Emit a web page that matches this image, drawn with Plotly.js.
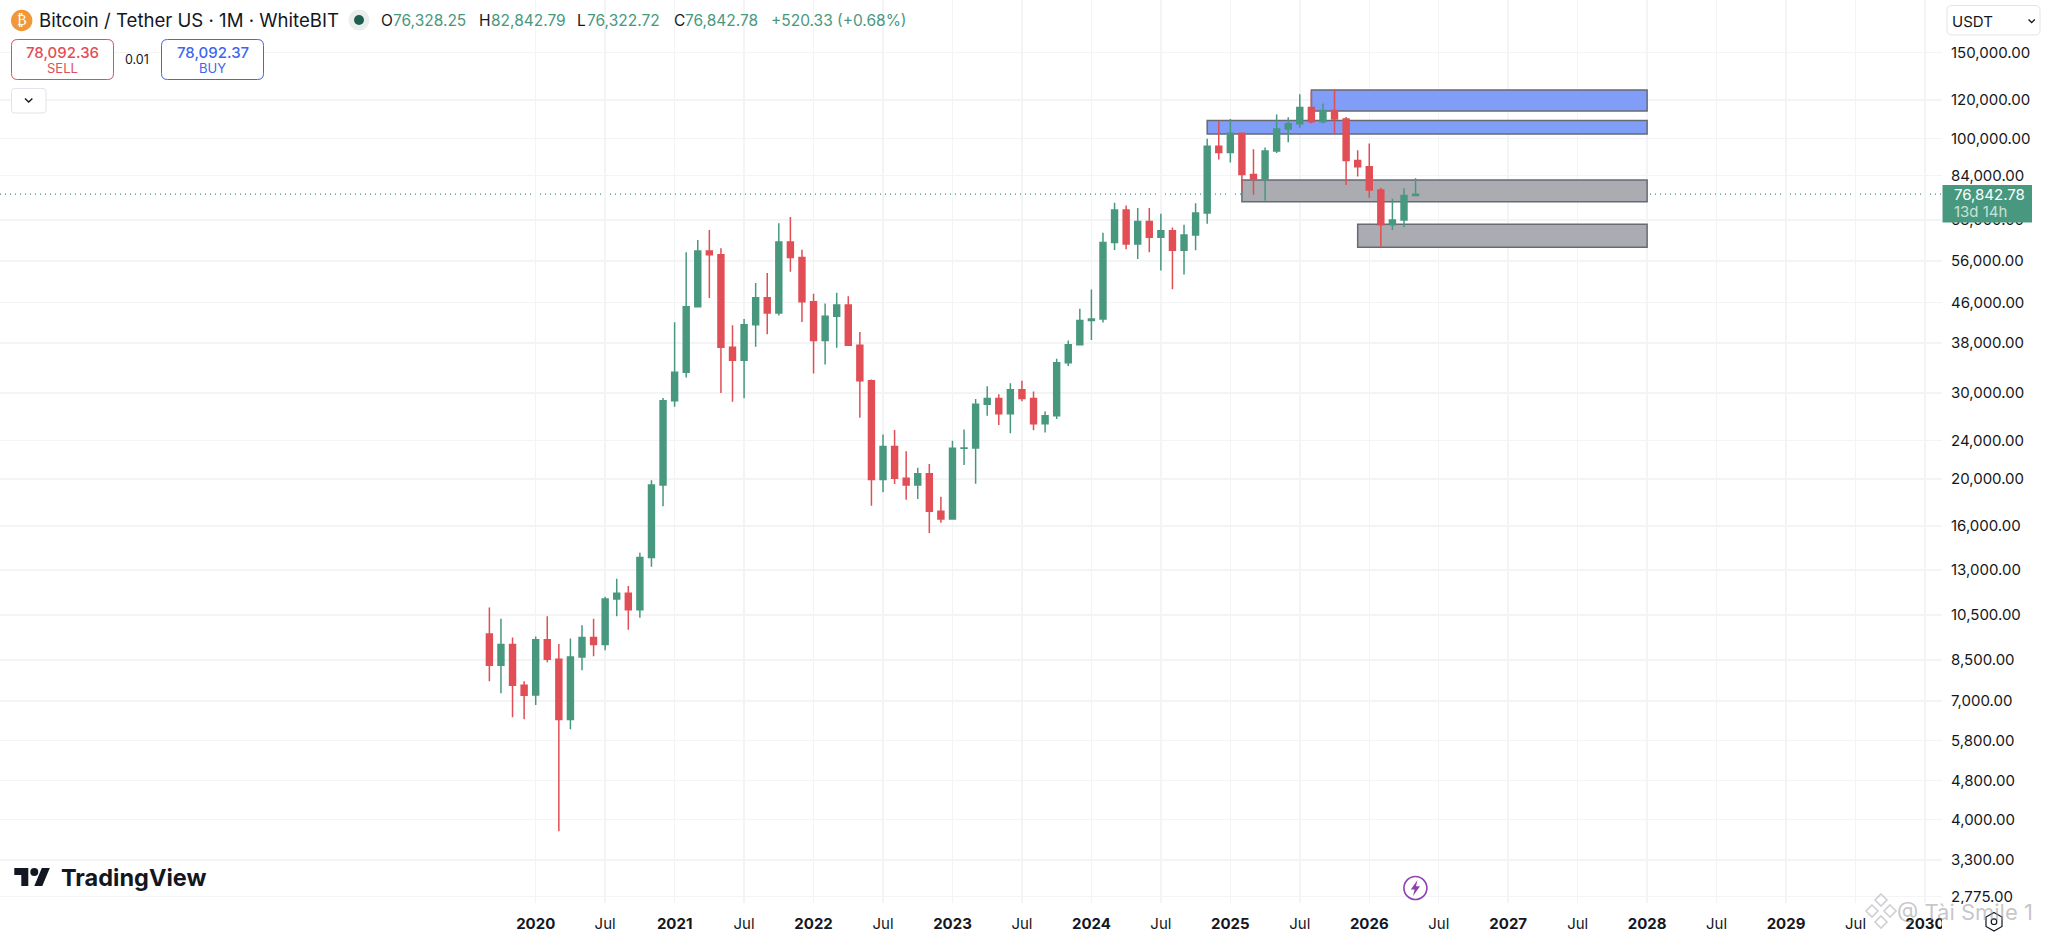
<!DOCTYPE html>
<html><head><meta charset="utf-8">
<script src="https://cdn.plot.ly/plotly-3.0.1.min.js"></script>
<style>html,body{margin:0;padding:0;background:#fff;overflow:hidden}#c{width:2047px;height:937px}</style>
</head><body><div id="c"></div>
<script>
var months=["2019-09","2019-10","2019-11","2019-12",
"2020-01","2020-02","2020-03","2020-04","2020-05","2020-06","2020-07","2020-08","2020-09","2020-10","2020-11","2020-12",
"2021-01","2021-02","2021-03","2021-04","2021-05","2021-06","2021-07","2021-08","2021-09","2021-10","2021-11","2021-12",
"2022-01","2022-02","2022-03","2022-04","2022-05","2022-06","2022-07","2022-08","2022-09","2022-10","2022-11","2022-12",
"2023-01","2023-02","2023-03","2023-04","2023-05","2023-06","2023-07","2023-08","2023-09","2023-10","2023-11","2023-12",
"2024-01","2024-02","2024-03","2024-04","2024-05","2024-06","2024-07","2024-08","2024-09","2024-10","2024-11","2024-12",
"2025-01","2025-02","2025-03","2025-04","2025-05","2025-06","2025-07","2025-08","2025-09","2025-10","2025-11","2025-12",
"2026-01","2026-02","2026-03","2026-04","2026-05"];
var opens=[9600,8289,9140,7541,
7195,9351,8523,6412,8620,9448,9137,11335,11649,10776,13791,19422,
28923,33092,45134,58739,57697,37253,35045,41461,47100,43816,61299,56950,
46216,38466,43160,45510,37630,31801,19942,23296,20050,19422,20490,17165,
16541,23125,23142,28465,29233,27216,30472,29232,25940,26962,34639,37723,
42284,42580,61130,71291,60672,67540,62678,64620,58970,63328,70292,96408,
93576,102429,84350,82550,94172,104591,107146,115764,108246,114049,109608,90060,
87470,78400,66510,68030,76328.25];
var highs=[10890,10320,9450,7680,
9490,10450,9160,9400,10010,10320,11450,12468,12050,14100,19863,29300,
41950,58352,61844,64854,59500,41330,42599,50500,52920,67000,69000,59054,
47990,45821,48190,47444,40023,31982,24666,25200,22799,21085,21446,18387,
23960,25250,29184,31000,29820,31431,31804,30244,27488,35280,38450,44700,
48969,64000,73777,72797,71979,71980,70014,65593,66498,73620,99800,108353,
109588,102500,95000,95758,111980,110530,123218,124474,117900,126200,110600,94600,
97600,79200,75200,79000,82842.79];
var lows=[7680,7262,6480,6420,
6870,8400,3782,6120,8090,8650,8900,10450,9800,10374,13195,17572,
28130,32296,44961,47044,30000,28805,29278,37332,39600,43283,53256,42000,
32917,34322,37155,37470,26700,17622,18780,19520,18125,18190,15476,16257,
16499,21351,19549,26942,25811,24800,28861,25166,24901,26538,34097,37615,
38555,41884,59005,59191,56552,58402,53550,49000,52550,58946,66835,90500,
89256,78258,76606,74508,93377,98200,105118,107350,107250,102000,80200,83500,
75560,59900,64840,65700,76322.72];
var closes=[8289,9140,7541,7193,
9352,8523,6410,8620,9448,9137,11335,11649,10776,13791,19422,28923,
33092,45135,58740,57694,37253,35045,41461,47100,43824,61299,56950,46216,
38466,43160,45510,37630,31801,19942,23293,20050,19422,20490,17164,16542,
23125,23142,28465,29233,27216,30472,29232,25940,26962,34639,37723,42283,
42580,61130,71291,60672,67540,62678,64620,58970,63328,70292,96408,93576,
102429,84350,82550,94172,104591,107146,115764,108246,114049,109608,90060,87470,
78400,66510,68030,76328.25,76842.78];

var priceTicks=[150000,120000,100000,84000,68000,56000,46000,38000,30000,24000,20000,16000,13000,10500,8500,7000,5800,4800,4000,3300,2775];
var priceTickLabels=["150,000.00","120,000.00","100,000.00","84,000.00","68,000.00","56,000.00","46,000.00","38,000.00","30,000.00","24,000.00","20,000.00","16,000.00","13,000.00","10,500.00","8,500.00","7,000.00","5,800.00","4,800.00","4,000.00","3,300.00","2,775.00"];
var timeTicks=["2020-01","2020-07","2021-01","2021-07","2022-01","2022-07","2023-01","2023-07","2024-01","2024-07","2025-01","2025-07","2026-01","2026-07","2027-01","2027-07","2028-01","2028-07","2029-01","2029-07","2030-01"];
var timeTickLabels=["<b>2020</b>","Jul","<b>2021</b>","Jul","<b>2022</b>","Jul","<b>2023</b>","Jul","<b>2024</b>","Jul","<b>2025</b>","Jul","<b>2026</b>","Jul","<b>2027</b>","Jul","<b>2028</b>","Jul","<b>2029</b>","Jul","<b>2030</b>"];
var futureMonths=[];
(function(){for(var y=2026;y<=2030;y++)for(var m=1;m<=12;m++){var s=y+"-"+(m<10?"0":"")+m;if(months.indexOf(s)<0)futureMonths.push(s);}})();
var allMonths=months.concat(futureMonths);

var zoneStarts=["2025-08","2024-11","2025-02","2025-12"];
var zoneEnd="2028-01";
var zoneTops=[125700,108860,82200,66630];
var zoneBottoms=[113800,102070,74160,59780];
var zoneFills=["#809ef8","#809ef8","#abacb1","#abacb1"];
var lastPrice=76842.78;

var GREEN="#48987f",RED="#e14e55",INK="#131722";
var PW=1942,PH=903;
function X(p){return p/PW;}
function Y(p){return 1-p/PH;}
function path(cmds){
  return cmds.map(function(c){
    var o=c[0];
    for(var i=1;i<c.length;i+=2){o+=(i>1?" ":"")+X(c[i])+","+Y(c[i+1]);}
    return o;
  }).join(" ");
}
function rrect(x0,y0,x1,y1,r){
  return path([["M",x0+r,y0],["L",x1-r,y0],["Q",x1,y0,x1,y0+r],["L",x1,y1-r],["Q",x1,y1,x1-r,y1],["L",x0+r,y1],["Q",x0,y1,x0,y1-r],["L",x0,y0+r],["Q",x0,y0,x0+r,y0]])+" Z";
}
function pshape(p,fill,line,w){return {type:"path",xref:"paper",yref:"paper",path:p,fillcolor:fill||"rgba(0,0,0,0)",line:{color:line||"rgba(0,0,0,0)",width:w||0},layer:"above"};}
function circle(cx,cy,r,fill,line,w){return {type:"circle",xref:"paper",yref:"paper",x0:X(cx-r),x1:X(cx+r),y0:Y(cy+r),y1:Y(cy-r),fillcolor:fill||"rgba(0,0,0,0)",line:{color:line||"rgba(0,0,0,0)",width:w||0},layer:"above"};}
function txt(t,x,y,size,color,anchor,family,weight){var f={family:family||"Inter, sans-serif",size:size,color:color};if(weight)f.weight=weight;return {text:t,xref:"paper",yref:"paper",x:X(x),y:Y(y),xanchor:anchor||"left",yanchor:"middle",showarrow:false,align:anchor||"left",font:f,borderpad:0};}

var shapes=[];
zoneStarts.forEach(function(s,i){
  shapes.push({type:"rect",xref:"x",yref:"y",x0:s,x1:zoneEnd,y0:zoneBottoms[i],y1:zoneTops[i],fillcolor:zoneFills[i],line:{color:"#676a73",width:1.5},layer:"between"});
});
shapes.push({type:"line",xref:"paper",yref:"y",x0:0,x1:1,y0:lastPrice,y1:lastPrice,line:{color:"#3f9078",width:1.3,dash:"1px,4px"},layer:"between"});
shapes.push({type:"rect",xref:"paper",yref:"paper",x0:1,x1:X(2047),y0:Y(937),y1:Y(904),fillcolor:"#fff",line:{width:0},layer:"above"});
shapes.push(circle(21.7,20.5,10.7,"#f0973a"));
shapes.push(circle(359,20,10.5,"#e9efed"));
shapes.push(circle(359,20,5,"#1f5f50"));
shapes.push(pshape(rrect(11.5,39.5,113.5,79.5,6),"#fff",RED,1));
shapes.push(pshape(rrect(161.5,39.5,263.5,79.5,6),"#fff","#3d67f0",1));
shapes.push(pshape(rrect(11.5,88.5,46,113,3),"#fff","#e0e3eb",1));
shapes.push(pshape(path([["M",25,98.5],["L",28.7,102],["L",32.4,98.5]]),null,INK,1.4));
shapes.push(pshape(rrect(1947,5.5,2040,35,5),"#fff","#e0e3eb",1));
shapes.push(pshape(path([["M",2028.5,19.5],["L",2031.7,22.5],["L",2034.9,19.5]]),null,INK,1.3));
shapes.push(pshape(path([["M",1942.5,185],["L",2032,185],["L",2032,222.5],["L",1942.5,222.5]])+" Z",GREEN));
var lx=14.3,ly=864;
shapes.push(pshape(path([["M",lx+14,ly+22],["L",lx+7,ly+22],["L",lx+7,ly+11],["L",lx,ly+11],["L",lx,ly+4],["L",lx+14,ly+4]])+" Z",INK));
shapes.push(pshape(path([["M",lx+28,ly+22],["L",lx+20,ly+22],["L",lx+27.5,ly+4],["L",lx+35.5,ly+4]])+" Z",INK));
shapes.push(circle(lx+20,ly+8,4,INK));
shapes.push(circle(1415.4,888,11.5,"#fff","#8e3fb0",1.6));
shapes.push(pshape(path([["M",1417.5,880],["L",1410.8,889.5],["L",1414.6,889.5],["L",1413,896],["L",1420,886.2],["L",1416,886.2]])+" Z","#8e3fb0"));
shapes.push(pshape(path([["M",1994,912.5],["L",2002,917],["L",2002,926.5],["L",1994,931],["L",1986,926.5],["L",1986,917]])+" Z","rgba(255,255,255,0)",INK,1.2));
shapes.push(circle(1994,921.7,2.8,null,INK,1.2));
[[1881,900],[1872,911],[1890,911],[1881,922]].forEach(function(d){
  shapes.push(pshape(path([["M",d[0],d[1]-6],["L",d[0]+6,d[1]],["L",d[0],d[1]+6],["L",d[0]-6,d[1]]])+" Z",null,"rgba(170,170,175,.55)",1.6));
});

var annotations=[
  txt("₿",21.7,20.5,14,"#fff","center","DejaVu Sans"),
  txt("Bitcoin / Tether US · 1M · WhiteBIT",37.5,20.5,18.6,INK),
  txt("O",380,20.5,15.5,INK),txt("76,328.25",391.5,20.5,15.5,GREEN),
  txt("H",478,20.5,15.5,INK),txt("82,842.79",490,20.5,15.5,GREEN),
  txt("L",576,20.5,15.5,INK),txt("76,322.72",586,20.5,15.5,GREEN),
  txt("C",673,20.5,15.5,INK),txt("76,842.78",684,20.5,15.5,GREEN),
  txt("+520.33 (+0.68%)",770,20.5,15.5,GREEN),
  txt("78,092.36",62.5,52,15,RED,"center",null,500),
  txt("SELL",62.5,68,13,RED,"center"),
  txt("0.01",137,60,12.5,INK,"center"),
  txt("78,092.37",212.5,52,15,"#3d67f0","center",null,500),
  txt("BUY",212.5,68,13,"#3d67f0","center"),
  txt("USDT",1951,21,15,INK),
  txt("76,842.78",1952.5,195,15,"#fff"),
  txt("13d 14h",1953,211.5,15,"#c6e2d8"),
  txt("<b>TradingView</b>",59.5,877,23.5,INK),
  txt("@ Tài Smile 1",1896,912,22,"rgba(150,150,155,.55)")
];

var trace={type:"candlestick",x:months,open:opens,high:highs,low:lows,close:closes,
  increasing:{line:{color:GREEN,width:1.5},fillcolor:GREEN},
  decreasing:{line:{color:RED,width:1.5},fillcolor:RED},
  whiskerwidth:0,hoverinfo:"skip",showlegend:false};

var layout={width:2047,height:937,margin:{l:0,r:105,t:0,b:34,pad:0},
  paper_bgcolor:"#fff",plot_bgcolor:"#fff",showlegend:false,dragmode:false,boxgap:0.27,
  font:{family:"Inter, sans-serif",size:15,color:INK},
  xaxis:{type:"category",categoryorder:"array",categoryarray:allMonths,range:[-42.27,125.47],
    tickmode:"array",tickvals:timeTicks,ticktext:timeTickLabels,tickangle:0,
    showgrid:true,gridcolor:"#f3f4f6",gridwidth:1.5,zeroline:false,showline:false,ticks:"",
    rangeslider:{visible:false},tickfont:{family:"Inter, sans-serif",size:15,color:INK},ticklabelstandoff:10,automargin:false},
  yaxis:{type:"log",side:"right",range:[Math.log10(2693),Math.log10(192390)],
    tickmode:"array",tickvals:priceTicks,ticktext:priceTickLabels,
    showgrid:true,gridcolor:"#f3f4f6",gridwidth:1.5,zeroline:false,showline:false,ticks:"",
    tickfont:{family:"Inter, sans-serif",size:15,color:INK},ticklabelstandoff:8,automargin:false},
  shapes:shapes,annotations:annotations};
Plotly.newPlot("c",[trace],layout,{displayModeBar:false,staticPlot:true});
</script></body></html>
